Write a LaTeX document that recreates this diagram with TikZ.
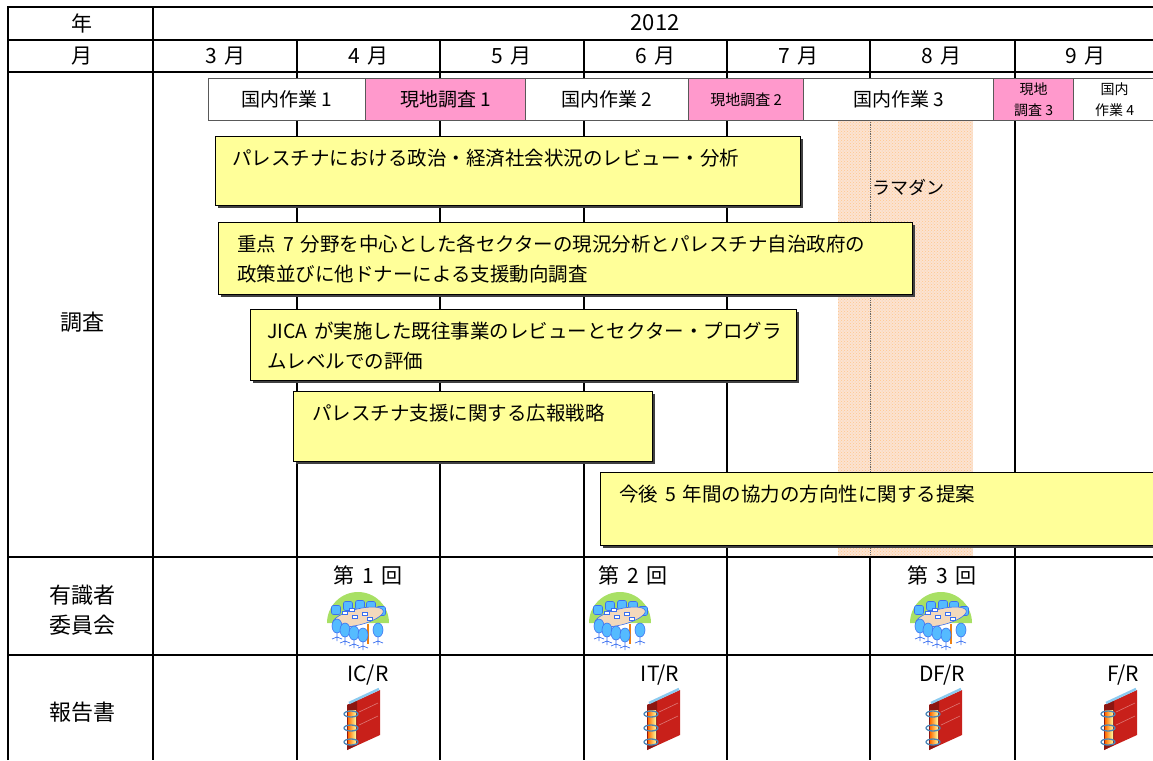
\documentclass[tikz,border=0pt]{standalone}
\usepackage{fontspec}
\setmainfont{Noto Sans CJK JP}
\usetikzlibrary{shadows,patterns}

\definecolor{memo}{HTML}{FFFF99}
\definecolor{genchi}{HTML}{FF99CC}
\definecolor{ramadan}{HTML}{FBE3D2}
\definecolor{lawn}{HTML}{A8E064}
\definecolor{chair}{HTML}{55BBFF}
\definecolor{chairline}{HTML}{3A6FF0}
\definecolor{desk}{HTML}{F3D9BC}
\definecolor{binder}{HTML}{C8201A}
\definecolor{sky}{HTML}{8CCBF0}
\definecolor{ring}{HTML}{4A86B8}

\newcommand\gap{\hspace{0.35em}}

\tikzset{
  grid/.style={line width=1.8pt},
  head/.style={font=\fontsize{21}{30}\selectfont, align=center},
  work/.style={draw=black!65, line width=1.2pt, minimum height=42pt, anchor=north west,
    inner sep=0pt, align=center},
  task/.style={draw=black, fill=memo, line width=1.2pt, anchor=north west,
    drop shadow={shadow xshift=2pt, shadow yshift=-2pt, fill=black!75, opacity=1}},
  tasktext/.style={anchor=north west, inner sep=0pt, align=left, font=\fontsize{19.5}{30}\selectfont},
  evt/.style={font=\fontsize{21}{24}\selectfont},
}

\begin{document}
\begin{tikzpicture}[x=1pt, y=-1pt]
\useasboundingbox (0,0) rectangle (1153,760);

% ramadan period
\fill[ramadan] (838,120) rectangle (973,557);
\fill[pattern=crosshatch dots, pattern color=orange!45] (838,120) rectangle (973,557);
\draw[black!60, densely dotted, line width=0.8pt] (870,120) -- (870,557);

% table rules
\draw[grid] (8,760) -- (8,7) -- (1153,7);
\foreach \y in {40,72,557,655} \draw[grid] (8,\y) -- (1153,\y);
\draw[grid] (153,7) -- (153,760);
\foreach \x in {297,440,584,727,1015} \draw[grid] (\x,40) -- (\x,760);
\draw[grid] (870,40) -- (870,120) (870,557) -- (870,760);

% headings
\node[head] (nen) at (82,23) {年};
\node[head] (tsuki) at (82,56) {月};
\node[head, font=\fontsize{22}{24}\selectfont] (year) at (655,23) {2012};
\foreach \m [count=\i] in {3,...,9}
  \node[head] (m\m) at (82+143.3*\i,56) {\m\gap 月};
\node[head, font=\fontsize{22}{30}\selectfont] (chosa) at (82,322) {調査};
\node[head, font=\fontsize{22}{30}\selectfont] (iinkai) at (82,610) {有識者\\委員会};
\node[head, font=\fontsize{22}{30}\selectfont] (hokoku) at (82,712) {報告書};

% work phases
\foreach \l/\w/\c/\s/\t [count=\i] in {
    208/157/white/19/国内作業 1,
    365/160/genchi/19/現地調査 1,
    525/163/white/19/国内作業 2,
    688/115/genchi/15/現地調査 2,
    803/190/white/19/国内作業 3,
    993/80/genchi/14/現地\\調査 3,
    1073/82/white/14/国内\\作業 4}
  \node[work, fill=\c, minimum width=\w pt, font=\fontsize{\s}{21}\selectfont] (w\i) at (\l,78) {\t};

\node[anchor=west, font=\fontsize{18}{20}\selectfont] (ramadanlabel) at (869,187) {ラマダン};

% survey items
\node[task, minimum width=585pt, minimum height=69pt] (t1) at (215,136) {};
\node[tasktext] (t1text) at (232,149) {パレスチナにおける政治・経済社会状況のレビュー・分析};
\node[task, minimum width=694pt, minimum height=72pt] (t2) at (218,222) {};
\node[tasktext] (t2text) at (237,235) {重点\gap 7\gap 分野を中心とした各セクターの現況分析とパレスチナ自治政府の\\政策並びに他ドナーによる支援動向調査};
\node[task, minimum width=546pt, minimum height=71pt] (t3) at (250,309) {};
\node[tasktext] (t3text) at (267,322) {JICA\gap が実施した既往事業のレビューとセクター・プログラ\\ムレベルでの評価};
\node[task, minimum width=359pt, minimum height=70pt] (t4) at (293,391) {};
\node[tasktext] (t4text) at (312,404) {パレスチナ支援に関する広報戦略};
\node[task, minimum width=560pt, minimum height=73pt] (t5) at (600,472) {};
\node[tasktext] (t5text) at (619,485) {今後\gap 5\gap 年間の協力の方向性に関する提案};

% committee meetings
\foreach \p/\n [count=\i] in {368/1, 633/2, 942/3}
  \node[evt] (kai\i) at (\p,575) {第\gap\n\gap 回};
\foreach \p in {358, 620, 941} {
  \begin{scope}[shift={(\p,620)}, yscale=-1]
    \fill[lawn] (31,-3) arc[start angle=0, end angle=180, radius=31] -- cycle;
    \foreach \cx/\cy in {-22/10, -10/14, 2/15, 13/14, 23/9}
      \filldraw[fill=chair, draw=chairline, line width=0.6pt, rounded corners=2pt]
        (\cx-4.5,\cy-4.5) rectangle (\cx+4.5,\cy+4.5);
    \filldraw[fill=desk, draw=chairline, line width=0.6pt, rotate around={-14:(0,3)}]
      (0,3) ellipse [x radius=26, y radius=8];
    \foreach \cx/\cy in {-13/7, -3/3, 7/6, -6/10, 12/1}
      \filldraw[fill=white, draw=chairline, line width=0.4pt] (\cx-2.5,\cy-1.5) rectangle (\cx+2.5,\cy+1.5);
    \draw[orange!70!brown, line width=1.3pt] (10,-4) -- (10,-24);
    \foreach \cx/\cy in {-21/-6, -13/-10, -4/-13, 5/-15, 20/-10} {
      \draw[chairline, line width=0.7pt] (\cx,\cy-5) -- (\cx,\cy-11)
        (\cx-5,\cy-13) -- (\cx,\cy-11) -- (\cx+5,\cy-13) (\cx,\cy-11) -- (\cx,\cy-15);
      \filldraw[fill=chair, draw=chairline, line width=0.6pt] (\cx,\cy) ellipse [x radius=5, y radius=7];
    }
  \end{scope}
}

% reports
\foreach \p/\r [count=\i] in {368/{IC/R}, 660/{IT/R}, 942/{DF/R}, 1123/{F/R}}
  \node[evt] (rep\i) at (\p,675) {\r};
\foreach \p in {362, 662, 944, 1119} {
  \begin{scope}[shift={(\p,720)}, yscale=-1]
    \fill[binder] (-15,-30) -- (18,-15) -- (18,30) -- (-15,15) -- cycle;
    \fill[binder!70!black] (-15,-30) -- (-5,-25) -- (-5,20) -- (-15,15) -- cycle;
    \draw[sky, line width=2.5pt] (-13,17) -- (17,31);
    \draw[binder!60!white, line width=0.6pt] (-3,-5) -- (16,4) (-3,8) -- (16,17);
    \shade[left color=orange!85!red, right color=yellow!35] (-14,-24) rectangle (-6,10);
    \foreach \y in {6,-8,-22}
      \draw[ring, line width=1.3pt] (-11,\y) ellipse [x radius=7, y radius=3];
  \end{scope}
}
\end{tikzpicture}
\end{document}
